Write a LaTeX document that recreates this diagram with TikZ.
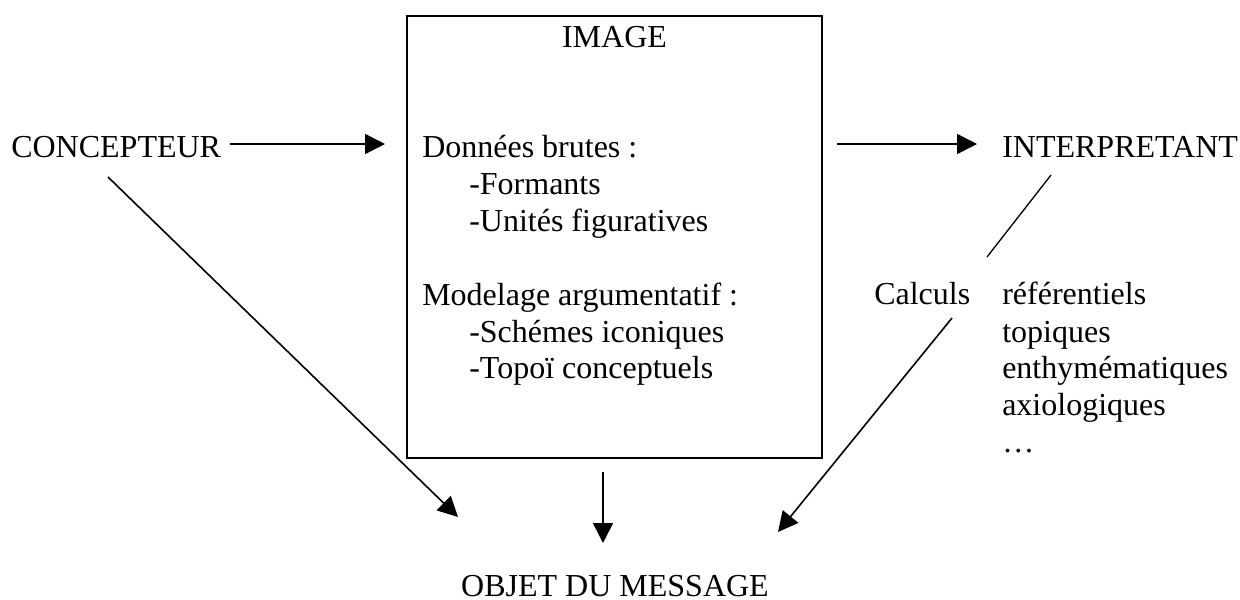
\documentclass[tikz,border=0pt]{standalone}
\usepackage{fontspec}
\setmainfont{Liberation Serif}
\usetikzlibrary{arrows.meta}
\tikzset{
  txt/.style={anchor=base west, inner sep=0pt, font=\fontsize{24}{27.5}\selectfont},
  arr/.style={line width=1.2pt, -{Triangle[length=15pt, width=15pt]}},
  plain/.style={line width=1pt},
  boxst/.style={draw, line width=1.6pt, rectangle, inner sep=0pt}
}
\begin{document}
\begin{tikzpicture}[x=0.75pt,y=-0.75pt]
\useasboundingbox (0,0) rectangle (1240,600);
% box
\node[boxst, minimum width=311.25pt, minimum height=331.5pt] (img) at (614.5,237) {};
\node[txt, anchor=base] (title) at (614.5,47) {IMAGE};
\node[txt] (db) at (422,157) {Données brutes :};
\node[txt] (f1) at (469,194) {-Formants};
\node[txt] (f2) at (469,231) {-Unités figuratives};
\node[txt] (ma) at (422,305) {Modelage argumentatif :};
\node[txt] (s1) at (469,342) {-Schémes iconiques};
\node[txt] (s2) at (469,378) {-Topoï conceptuels};
% outer texts
\node[txt] (conc) at (11,157) {CONCEPTEUR};
\node[txt] (interp) at (1002,157) {INTERPRETANT};
\node[txt] (calc) at (874,304) {Calculs};
\node[txt] (r1) at (1002,304) {référentiels};
\node[txt] (r2) at (1002,342) {topiques};
\node[txt] (r3) at (1002,378) {enthymématiques};
\node[txt] (r4) at (1002,415) {axiologiques};
\node[txt] (r5) at (1002,452) {…};
\node[txt, anchor=base] (obj) at (615,596) {OBJET DU MESSAGE};
% connector ends
\coordinate (a1s) at (230,144);
\coordinate (a1e) at (385,144);
\coordinate (a2s) at (837,144);
\coordinate (a2e) at (977,144);
\coordinate (d1s) at (108,177);
\coordinate (d1e) at (458,517);
\coordinate (d2s) at (603,472);
\coordinate (d2e) at (603,543);
\coordinate (d3s) at (952,318);
\coordinate (d3e) at (778,532);
\coordinate (l1s) at (1051,175);
\coordinate (l1e) at (987,257);
% connectors
\draw[arr] (a1s) -- (a1e);
\draw[arr] (a2s) -- (a2e);
\draw[arr] (d1s) -- (d1e);
\draw[arr] (d2s) -- (d2e);
\draw[arr] (d3s) -- (d3e);
\draw[plain] (l1s) -- (l1e);
\end{tikzpicture}
\end{document}
